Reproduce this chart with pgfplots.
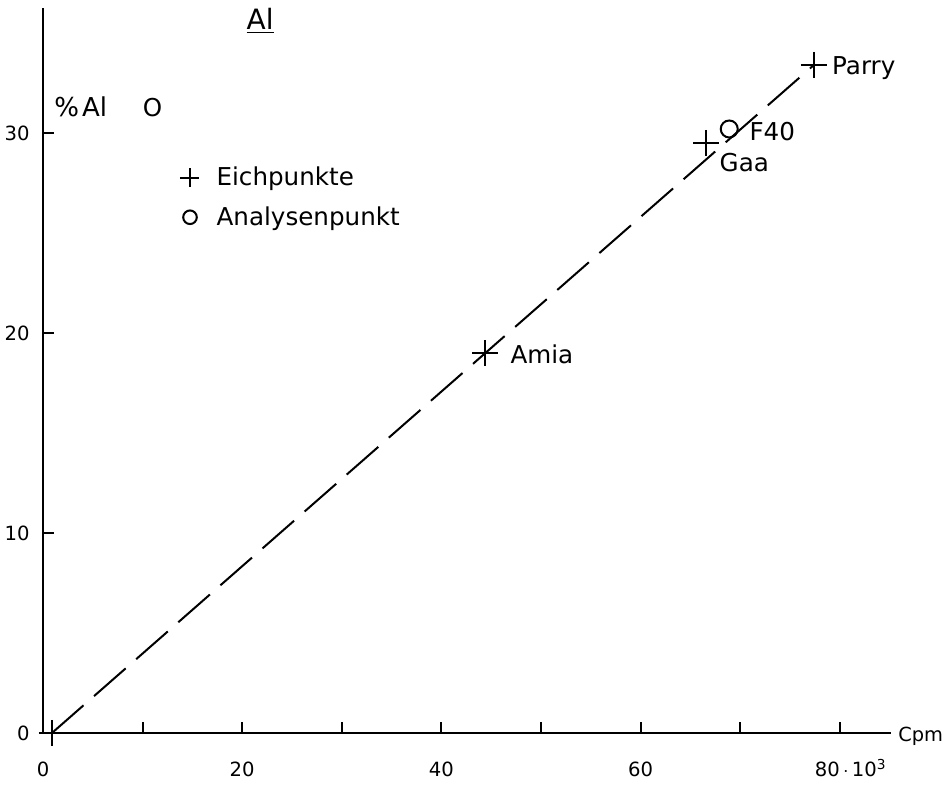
\documentclass[border=0pt]{standalone}
\usepackage{fontspec}
\setmainfont{DejaVu Sans}
\usepackage{pgfplots}
\pgfplotsset{compat=1.18}
\newcommand{\lblfont}{\fontsize{12.3}{14}\selectfont}
\newcommand{\tickfont}{\fontsize{9.8}{11}\selectfont}
\begin{document}
\begin{tikzpicture}
\begin{axis}[
  x=4.98pt, y=10pt,
  xmin=0, xmax=85.1, ymin=0, ymax=36.25,
  axis lines=left,
  axis line style={-, line width=1.2pt},
  xtick={0,10,...,80},
  xticklabels={0,,20,,40,,60,,\hspace*{11pt}80\,$\cdot$\,10\textsuperscript{3}},
  ytick={0,10,20,30},
  tick align=inside,
  major tick length=5.5pt,
  tick style={line width=1pt, black},
  /pgf/number format/assume math mode=true,
  xticklabel style={font=\tickfont, anchor=base, inner sep=0pt, yshift=-22pt},
  yticklabel style={font=\tickfont, anchor=east, inner sep=0pt, xshift=-6.5pt},
  clip=false,
  legend style={at={(axis cs:13.755,28.285)}, anchor=north west, draw=none, fill=none,
    inner sep=0pt, outer sep=0pt, row sep=8.8pt, column sep=8.3pt, font=\lblfont,
    nodes={inner sep=0pt, anchor=base west}},
  legend image code/.code={\path[draw=none, fill=none] (-5pt,-1pt) rectangle (5pt,9pt); \draw[#1] plot coordinates {(0pt,4pt)};},
]
\addplot[only marks, mark=+, mark size=6.5pt, line width=1pt, black,
  legend image post style={mark size=4.75pt}]
  coordinates {(0.9,0) (44.4,19.0) (66.6,29.5) (77.4,33.4)};
\addlegendentry{Eichpunkte}
\addplot[only marks, mark=o, mark size=4.25pt, line width=1pt, black,
  legend image post style={mark size=3.4pt}]
  coordinates {(68.9,30.2)};
\addlegendentry{Analysenpunkt}
\addplot[forget plot, line width=1pt, black, dash pattern=on 21pt off 7pt]
  coordinates {(0.9,0) (77.4,33.4)};
\node[anchor=base, inner sep=0pt, font=\fontsize{14}{16}\selectfont] at (axis cs:21.8,35.15) {\underline{Al}};
\node[anchor=base west, inner sep=0pt, font=\fontsize{13}{15}\selectfont] at (axis cs:1.1,30.8) {\%\hspace{1.5pt}Al};
\node[anchor=base west, inner sep=0pt, font=\lblfont] at (axis cs:10.0,30.8) {O};
\node[anchor=base west, inner sep=0pt, font=\lblfont] at (axis cs:46.9,18.49) {Amia};
\node[anchor=base west, inner sep=0pt, font=\lblfont] at (axis cs:67.9,28.07) {Gaa};
\node[anchor=base west, inner sep=0pt, font=\lblfont] at (axis cs:70.9,29.6) {F40};
\node[anchor=base west, inner sep=0pt, font=\lblfont] at (axis cs:79.2,32.9) {Parry};
\node[anchor=base west, inner sep=0pt, font=\fontsize{9.7}{11}\selectfont] at (axis cs:85.84,-0.45) {Cpm};
\coordinate (O) at (axis cs:0,0);
\end{axis}
\pgfresetboundingbox
\useasboundingbox ([shift={(-21.5pt,-26pt)}]O) rectangle ([shift={(450pt,366.5pt)}]O);
\end{tikzpicture}
\end{document}
